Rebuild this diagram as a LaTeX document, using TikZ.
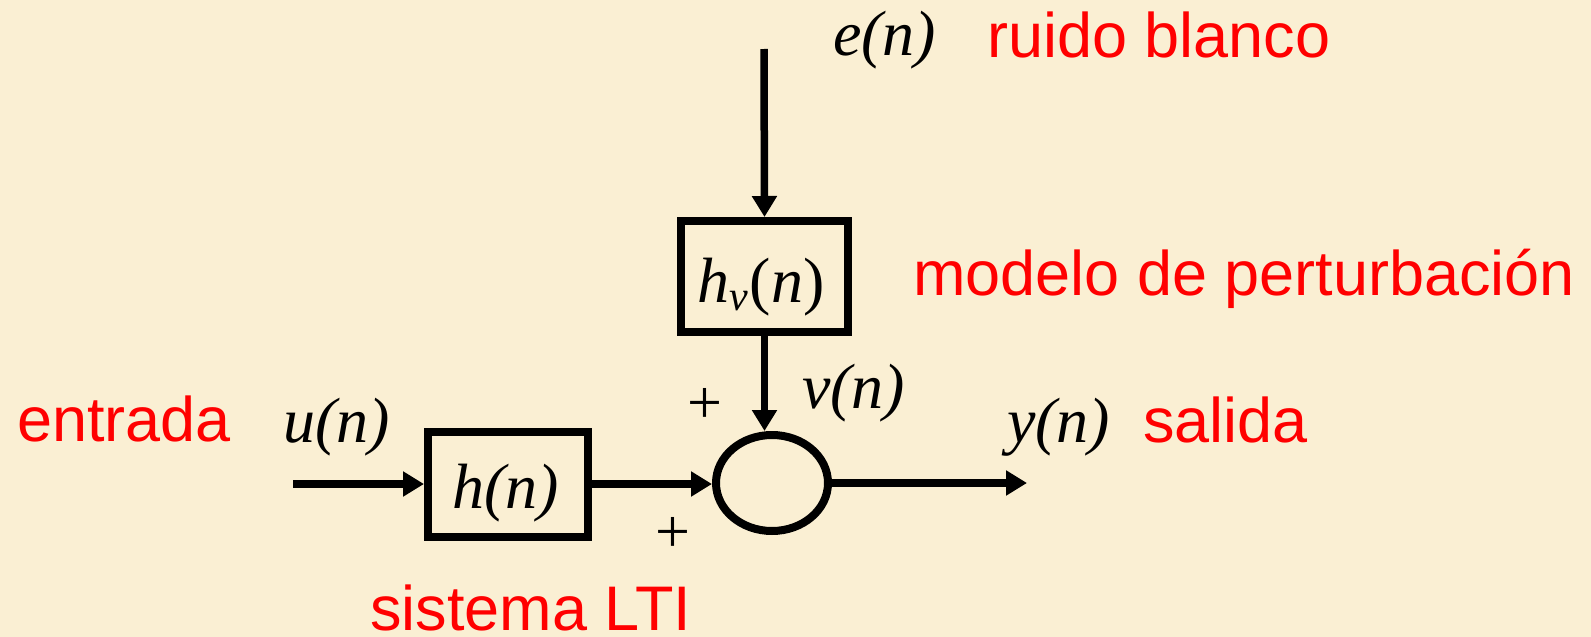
\documentclass[tikz,border=0pt]{standalone}
\usepackage{fontspec}
\setmainfont{Liberation Serif}
\newfontfamily\arial{Liberation Sans}
\usetikzlibrary{arrows.meta,shapes.geometric}
\definecolor{bgc}{RGB}{250,239,211}
\definecolor{lblred}{RGB}{255,0,0}
\tikzset{
  lbl/.style={text=lblred, font=\arial\fontsize{63}{70}\selectfont, anchor=base west, inner sep=0pt},
  sig/.style={font=\fontsize{64}{70}\selectfont\itshape, anchor=base west, inner sep=0pt},
  plus/.style={font=\fontsize{62}{70}\selectfont, inner sep=0pt},
  blk/.style={draw, line width=8pt, rectangle, inner sep=0pt, font=\fontsize{64}{70}\selectfont\itshape},
  arr/.style={line width=7.5pt, -{Triangle[length=21pt,width=24pt]}}
}
\begin{document}
\begin{tikzpicture}[x=1pt,y=-1pt]
\fill[bgc] (0,0) rectangle (1591,637);
\useasboundingbox (0,0) rectangle (1591,637);
% blocks
\node[blk, minimum width=167pt, minimum height=111pt] (hv) at (764.5,276.5) {};
\node[blk, minimum width=160pt, minimum height=105pt] (h) at (508,484) {};
\node[draw, ellipse, line width=8pt, minimum width=112pt, minimum height=96pt, inner sep=0pt] (sum) at (772,483) {};
% block texts
\node[sig] (hvt) at (697,302) {h\raisebox{-8pt}{\fontsize{42}{42}\selectfont v}\kern2pt\upshape(\itshape n\upshape)};
\node[sig] (ht) at (452,508) {h(n)};
% coordinates
\coordinate (etop) at (764,49);
\coordinate (uin) at (293,484);
\coordinate (yout) at (1027,483);
% connectors
\draw[arr] (etop) -- (hv.north);
\draw[arr] (hv.south) -- (hv.south |- sum.north);
\draw[arr] (uin) -- (h.west);
\draw[arr] (h.east) -- (h.east -| sum.west);
\draw[arr] (sum.east) -- (yout);
% signal labels
\node[sig] (en) at (833,55) {e(n)};
\node[sig] (un) at (283,442) {u(n)};
\node[sig] (vn) at (802,408) {v(n)};
\node[sig] (yn) at (1007,442) {y(n)};
\node[plus] (p1) at (705,406) {+};
\node[plus] (p2) at (673,535) {+};
% red labels
\node[lbl] (l1) at (987,57) {ruido blanco};
\node[lbl] (l2) at (913,295) {modelo de perturbación};
\node[lbl] (l3) at (17,441) {entrada};
\node[lbl] (l4) at (1143,442) {salida};
\node[lbl] (l5) at (370,630) {sistema LTI};
\end{tikzpicture}
\end{document}
